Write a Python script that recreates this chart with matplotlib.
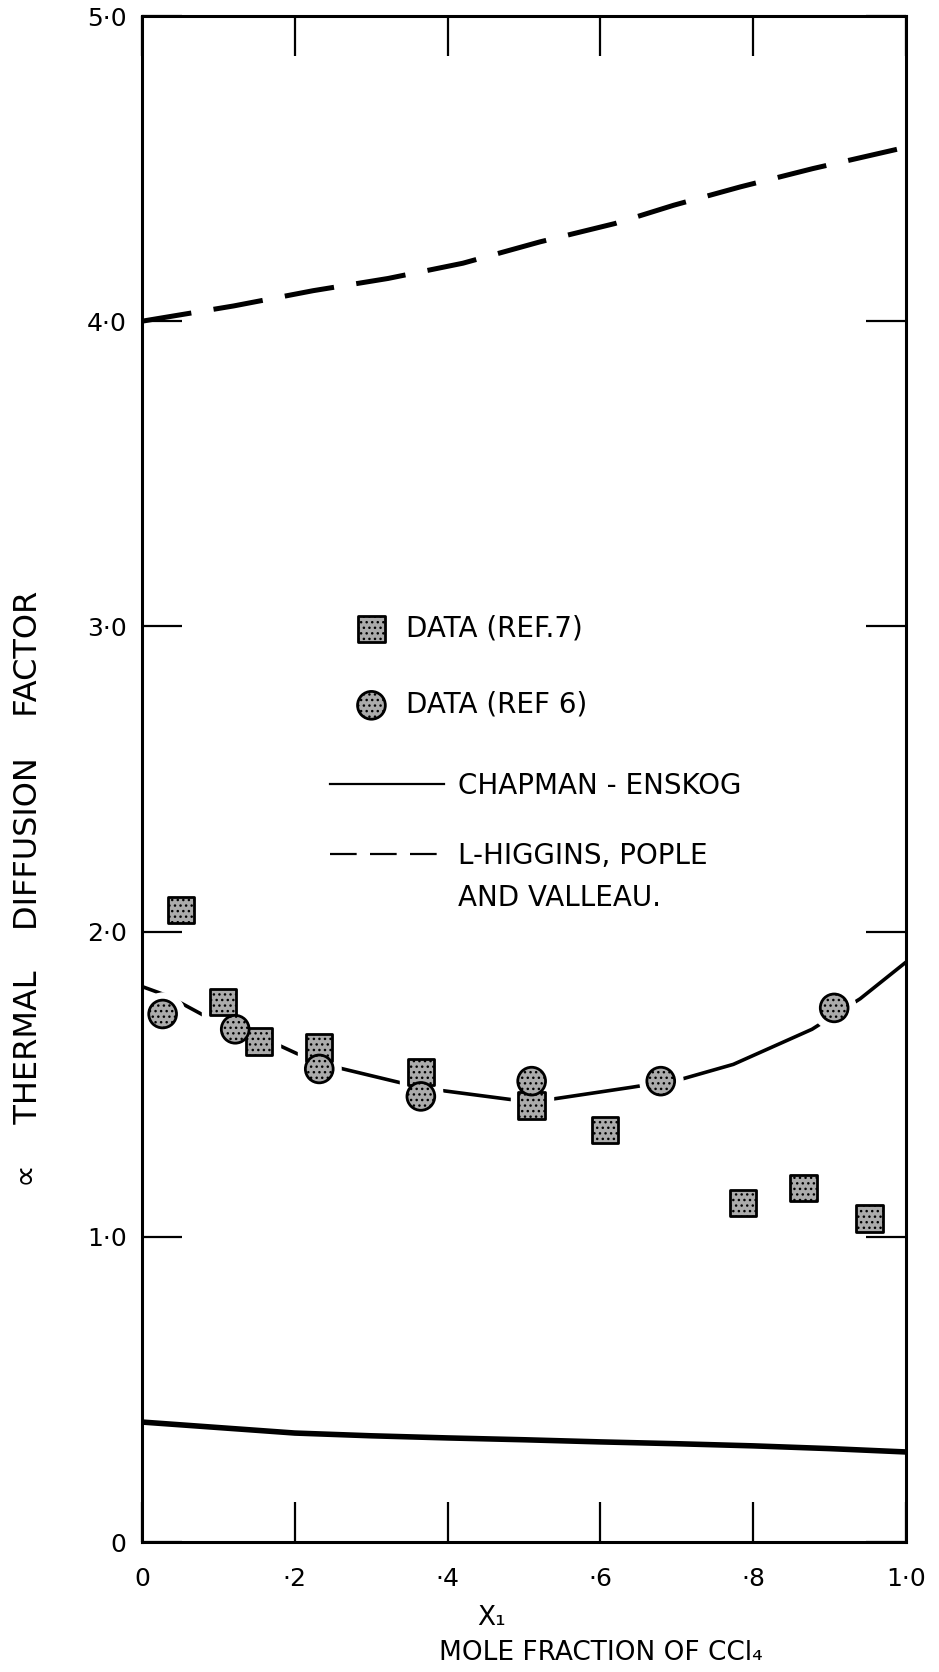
import matplotlib
matplotlib.use("Agg")
import matplotlib.pyplot as plt
from matplotlib.lines import Line2D

# ── Values (x = mole fraction of CCl4) ────────────────────────────────────────
ref7_x = [0.051, 0.106, 0.153, 0.232, 0.365, 0.510, 0.606, 0.787, 0.866, 0.952]
ref7_y = [2.07, 1.77, 1.64, 1.62, 1.54, 1.43, 1.35, 1.11, 1.16, 1.06]

ref6_x = [0.027, 0.122, 0.232, 0.365, 0.510, 0.679, 0.906]
ref6_y = [1.73, 1.68, 1.55, 1.46, 1.51, 1.51, 1.75]

# smooth curve drawn through the data
fit_x = [0.0, 0.033, 0.048, 0.096, 0.177, 0.203, 0.255, 0.338, 0.39, 0.482,
         0.534, 0.641, 0.704, 0.774, 0.877, 0.94, 1.0]
fit_y = [1.82, 1.79, 1.77, 1.705, 1.63, 1.60, 1.555, 1.505, 1.48, 1.45,
         1.45, 1.49, 1.515, 1.565, 1.68, 1.78, 1.90]

# Chapman-Enskog
ce_x = [0.0, 0.1, 0.2, 0.3, 0.4, 0.5, 0.6, 0.7, 0.8, 0.9, 1.0]
ce_y = [0.393, 0.375, 0.357, 0.348, 0.341, 0.335, 0.328, 0.322, 0.315, 0.306, 0.295]

# Longuet-Higgins, Pople and Valleau
lhpv_x = [0.0, 0.12, 0.224, 0.322, 0.42, 0.521, 0.619, 0.696, 0.783, 0.878, 1.0]
lhpv_y = [4.0, 4.05, 4.10, 4.14, 4.19, 4.26, 4.32, 4.38, 4.44, 4.50, 4.57]

x_ticks = [0, 0.2, 0.4, 0.6, 0.8, 1.0]
x_tick_labels = ["0", "·2", "·4", "·6", "·8", "1·0"]
y_ticks = [0, 1, 2, 3, 4, 5]
y_tick_labels = ["0", "1·0", "2·0", "3·0", "4·0", "5·0"]

plt.rcParams["font.family"] = ["DejaVu Sans"]

W, H = 939, 1672
fig = plt.figure(figsize=(W / 100, H / 100), dpi=100)
ax = fig.add_axes([142 / W, 1 - 1542 / H, (906 - 142) / W, (1542 - 16) / H])
ax.set_xlim(0, 1)
ax.set_ylim(0, 5)

for sp in ax.spines.values():
    sp.set_linewidth(2.2)

ax.set_xticks(x_ticks, x_tick_labels)
ax.set_yticks(y_ticks, y_tick_labels)
ax.tick_params(direction="in", length=29, width=1.6, top=True, right=True,
               labelsize=18)
ax.tick_params(axis="x", pad=18)
ax.tick_params(axis="y", pad=11)

# ── Curves ────────────────────────────────────────────────────────────────────
ax.plot(fit_x, fit_y, color="black", lw=2.6, zorder=1.2)
ax.plot(ce_x, ce_y, color="black", lw=4, zorder=2)
ax.plot(lhpv_x, lhpv_y, color="black", lw=3.6, ls=(0, (10, 4.5)), zorder=2)

# white halos so the curve breaks around the symbols, like the drawing
ax.scatter(ref7_x, ref7_y, marker="s", s=30 ** 2, c="white", zorder=1.5)
ax.scatter(ref6_x, ref6_y, marker="o", s=31 ** 2, c="white", zorder=1.5)

sq = ax.scatter(ref7_x, ref7_y, marker="s", s=19 ** 2, facecolor="#ababab",
                edgecolor="black", linewidth=2, hatch="...", zorder=4)
ci = ax.scatter(ref6_x, ref6_y, marker="o", s=20 ** 2, facecolor="#ababab",
                edgecolor="black", linewidth=2, hatch="...", zorder=5)

# ── Legend (two blocks, as lettered on the sheet) ─────────────────────────────
leg1 = ax.legend([sq, ci], ["DATA (REF.7)", "DATA (REF 6)"],
                 loc="upper left", bbox_to_anchor=(352 / W, 1 - 614 / H),
                 bbox_transform=fig.transFigure, frameon=False, fontsize=20,
                 scatterpoints=1, handlelength=1.4, handletextpad=0.55,
                 labelspacing=1.75, borderpad=0, borderaxespad=0)
ax.add_artist(leg1)

solid = Line2D([], [], color="black", lw=1.6)
dashed = Line2D([], [], color="black", lw=1.6, ls=(0, (12, 6)))
leg2 = ax.legend([solid, dashed], ["CHAPMAN - ENSKOG", "L-HIGGINS, POPLE"],
                 loc="upper left", bbox_to_anchor=(330 / W, 1 - 772 / H),
                 bbox_transform=fig.transFigure, frameon=False, fontsize=20,
                 handlelength=4.1, handletextpad=0.5, labelspacing=1.5,
                 borderpad=0, borderaxespad=0)
fig.canvas.draw()
ax.annotate("AND VALLEAU.", xy=(0, 0), xycoords=leg2.get_texts()[1],
            xytext=(0, -14), textcoords="offset pixels", va="top",
            ha="left", fontsize=20)

# ── Axis labels ───────────────────────────────────────────────────────────────
ax.set_ylabel("∝    THERMAL    DIFFUSION    FACTOR", fontsize=23)
ax.yaxis.set_label_coords(-0.128, 0.428)
ax.set_xlabel("X₁", fontsize=19)
ax.xaxis.set_label_coords(0.457, -0.041)
ax.text(0.6, -0.0727, "MOLE FRACTION OF CCl₄", transform=ax.transAxes,
        ha="center", va="center", fontsize=19)

fig.savefig("out.png", dpi=100)
